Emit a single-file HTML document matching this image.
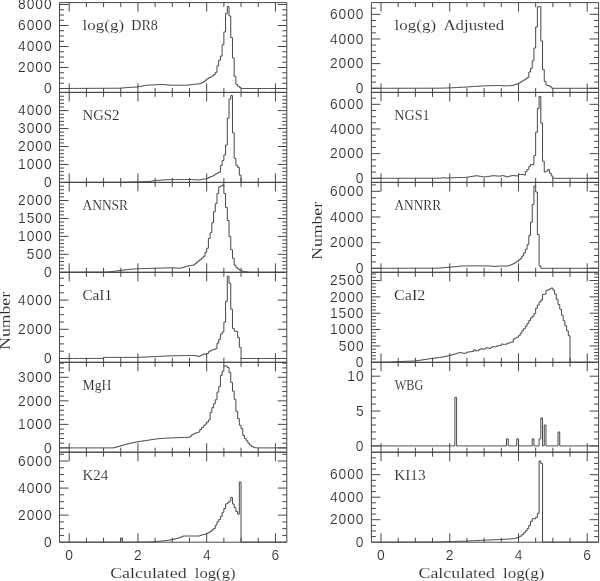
<!DOCTYPE html>
<html><head><meta charset="utf-8"><title>log(g) histograms</title>
<style>
html,body{margin:0;padding:0;background:#fff;width:600px;height:581px;overflow:hidden}
#fig{width:600px;height:581px;opacity:0.999;will-change:transform}
svg{display:block}
.tk{font-family:"Liberation Sans",sans-serif;font-size:13.8px;stroke:#fff;stroke-width:0.15px}
.nm{font-family:"Liberation Serif",serif;font-size:14.4px;stroke:#fff;stroke-width:0.12px}
.nb{font-family:"Liberation Serif",serif;font-size:15.6px;stroke:#fff;stroke-width:0.12px}
</style></head><body>
<div id="fig">
<svg width="600" height="581" viewBox="0 0 600 581">
<rect width="600" height="581" fill="#fff"/>
<path d="M59.50 2.60H286.80V92.40H59.50ZM69.20 92.40L69.20 83.40M69.20 2.60L69.20 11.60M86.39 92.40L86.39 87.90M86.39 2.60L86.39 7.10M103.57 92.40L103.57 87.90M103.57 2.60L103.57 7.10M120.75 92.40L120.75 87.90M120.75 2.60L120.75 7.10M137.94 92.40L137.94 83.40M137.94 2.60L137.94 11.60M155.12 92.40L155.12 87.90M155.12 2.60L155.12 7.10M172.31 92.40L172.31 87.90M172.31 2.60L172.31 7.10M189.50 92.40L189.50 87.90M189.50 2.60L189.50 7.10M206.68 92.40L206.68 83.40M206.68 2.60L206.68 11.60M223.87 92.40L223.87 87.90M223.87 2.60L223.87 7.10M241.05 92.40L241.05 87.90M241.05 2.60L241.05 7.10M258.24 92.40L258.24 87.90M258.24 2.60L258.24 7.10M275.42 92.40L275.42 83.40M275.42 2.60L275.42 11.60M59.50 88.50L68.50 88.50M286.80 88.50L277.80 88.50M59.50 83.25L64.00 83.25M286.80 83.25L282.30 83.25M59.50 78.00L64.00 78.00M286.80 78.00L282.30 78.00M59.50 72.75L64.00 72.75M286.80 72.75L282.30 72.75M59.50 67.50L68.50 67.50M286.80 67.50L277.80 67.50M59.50 62.25L64.00 62.25M286.80 62.25L282.30 62.25M59.50 57.00L64.00 57.00M286.80 57.00L282.30 57.00M59.50 51.75L64.00 51.75M286.80 51.75L282.30 51.75M59.50 46.50L68.50 46.50M286.80 46.50L277.80 46.50M59.50 41.25L64.00 41.25M286.80 41.25L282.30 41.25M59.50 36.00L64.00 36.00M286.80 36.00L282.30 36.00M59.50 30.75L64.00 30.75M286.80 30.75L282.30 30.75M59.50 25.50L68.50 25.50M286.80 25.50L277.80 25.50M59.50 20.25L64.00 20.25M286.80 20.25L282.30 20.25M59.50 15.00L64.00 15.00M286.80 15.00L282.30 15.00M59.50 9.75L64.00 9.75M286.80 9.75L282.30 9.75M59.50 4.50L68.50 4.50M286.80 4.50L277.80 4.50M59.50 92.40H286.80V182.40H59.50ZM69.20 182.40L69.20 173.40M69.20 92.40L69.20 101.40M86.39 182.40L86.39 177.90M86.39 92.40L86.39 96.90M103.57 182.40L103.57 177.90M103.57 92.40L103.57 96.90M120.75 182.40L120.75 177.90M120.75 92.40L120.75 96.90M137.94 182.40L137.94 173.40M137.94 92.40L137.94 101.40M155.12 182.40L155.12 177.90M155.12 92.40L155.12 96.90M172.31 182.40L172.31 177.90M172.31 92.40L172.31 96.90M189.50 182.40L189.50 177.90M189.50 92.40L189.50 96.90M206.68 182.40L206.68 173.40M206.68 92.40L206.68 101.40M223.87 182.40L223.87 177.90M223.87 92.40L223.87 96.90M241.05 182.40L241.05 177.90M241.05 92.40L241.05 96.90M258.24 182.40L258.24 177.90M258.24 92.40L258.24 96.90M275.42 182.40L275.42 173.40M275.42 92.40L275.42 101.40M59.50 178.81L64.00 178.81M286.80 178.81L282.30 178.81M59.50 175.22L64.00 175.22M286.80 175.22L282.30 175.22M59.50 171.63L64.00 171.63M286.80 171.63L282.30 171.63M59.50 168.04L64.00 168.04M286.80 168.04L282.30 168.04M59.50 164.45L68.50 164.45M286.80 164.45L277.80 164.45M59.50 160.86L64.00 160.86M286.80 160.86L282.30 160.86M59.50 157.27L64.00 157.27M286.80 157.27L282.30 157.27M59.50 153.68L64.00 153.68M286.80 153.68L282.30 153.68M59.50 150.09L64.00 150.09M286.80 150.09L282.30 150.09M59.50 146.50L68.50 146.50M286.80 146.50L277.80 146.50M59.50 142.91L64.00 142.91M286.80 142.91L282.30 142.91M59.50 139.32L64.00 139.32M286.80 139.32L282.30 139.32M59.50 135.73L64.00 135.73M286.80 135.73L282.30 135.73M59.50 132.14L64.00 132.14M286.80 132.14L282.30 132.14M59.50 128.55L68.50 128.55M286.80 128.55L277.80 128.55M59.50 124.96L64.00 124.96M286.80 124.96L282.30 124.96M59.50 121.37L64.00 121.37M286.80 121.37L282.30 121.37M59.50 117.78L64.00 117.78M286.80 117.78L282.30 117.78M59.50 114.19L64.00 114.19M286.80 114.19L282.30 114.19M59.50 110.60L68.50 110.60M286.80 110.60L277.80 110.60M59.50 107.01L64.00 107.01M286.80 107.01L282.30 107.01M59.50 103.42L64.00 103.42M286.80 103.42L282.30 103.42M59.50 99.83L64.00 99.83M286.80 99.83L282.30 99.83M59.50 96.24L64.00 96.24M286.80 96.24L282.30 96.24M59.50 182.40H286.80V272.30H59.50ZM69.20 272.30L69.20 263.30M69.20 182.40L69.20 191.40M86.39 272.30L86.39 267.80M86.39 182.40L86.39 186.90M103.57 272.30L103.57 267.80M103.57 182.40L103.57 186.90M120.75 272.30L120.75 267.80M120.75 182.40L120.75 186.90M137.94 272.30L137.94 263.30M137.94 182.40L137.94 191.40M155.12 272.30L155.12 267.80M155.12 182.40L155.12 186.90M172.31 272.30L172.31 267.80M172.31 182.40L172.31 186.90M189.50 272.30L189.50 267.80M189.50 182.40L189.50 186.90M206.68 272.30L206.68 263.30M206.68 182.40L206.68 191.40M223.87 272.30L223.87 267.80M223.87 182.40L223.87 186.90M241.05 272.30L241.05 267.80M241.05 182.40L241.05 186.90M258.24 272.30L258.24 267.80M258.24 182.40L258.24 186.90M275.42 272.30L275.42 263.30M275.42 182.40L275.42 191.40M59.50 268.71L64.00 268.71M286.80 268.71L282.30 268.71M59.50 265.12L64.00 265.12M286.80 265.12L282.30 265.12M59.50 261.53L64.00 261.53M286.80 261.53L282.30 261.53M59.50 257.94L64.00 257.94M286.80 257.94L282.30 257.94M59.50 254.35L68.50 254.35M286.80 254.35L277.80 254.35M59.50 250.76L64.00 250.76M286.80 250.76L282.30 250.76M59.50 247.17L64.00 247.17M286.80 247.17L282.30 247.17M59.50 243.58L64.00 243.58M286.80 243.58L282.30 243.58M59.50 239.99L64.00 239.99M286.80 239.99L282.30 239.99M59.50 236.40L68.50 236.40M286.80 236.40L277.80 236.40M59.50 232.81L64.00 232.81M286.80 232.81L282.30 232.81M59.50 229.22L64.00 229.22M286.80 229.22L282.30 229.22M59.50 225.63L64.00 225.63M286.80 225.63L282.30 225.63M59.50 222.04L64.00 222.04M286.80 222.04L282.30 222.04M59.50 218.45L68.50 218.45M286.80 218.45L277.80 218.45M59.50 214.86L64.00 214.86M286.80 214.86L282.30 214.86M59.50 211.27L64.00 211.27M286.80 211.27L282.30 211.27M59.50 207.68L64.00 207.68M286.80 207.68L282.30 207.68M59.50 204.09L64.00 204.09M286.80 204.09L282.30 204.09M59.50 200.50L68.50 200.50M286.80 200.50L277.80 200.50M59.50 196.91L64.00 196.91M286.80 196.91L282.30 196.91M59.50 193.32L64.00 193.32M286.80 193.32L282.30 193.32M59.50 189.73L64.00 189.73M286.80 189.73L282.30 189.73M59.50 186.14L64.00 186.14M286.80 186.14L282.30 186.14M59.50 272.30H286.80V362.30H59.50ZM69.20 362.30L69.20 353.30M69.20 272.30L69.20 281.30M86.39 362.30L86.39 357.80M86.39 272.30L86.39 276.80M103.57 362.30L103.57 357.80M103.57 272.30L103.57 276.80M120.75 362.30L120.75 357.80M120.75 272.30L120.75 276.80M137.94 362.30L137.94 353.30M137.94 272.30L137.94 281.30M155.12 362.30L155.12 357.80M155.12 272.30L155.12 276.80M172.31 362.30L172.31 357.80M172.31 272.30L172.31 276.80M189.50 362.30L189.50 357.80M189.50 272.30L189.50 276.80M206.68 362.30L206.68 353.30M206.68 272.30L206.68 281.30M223.87 362.30L223.87 357.80M223.87 272.30L223.87 276.80M241.05 362.30L241.05 357.80M241.05 272.30L241.05 276.80M258.24 362.30L258.24 357.80M258.24 272.30L258.24 276.80M275.42 362.30L275.42 353.30M275.42 272.30L275.42 281.30M59.50 358.50L68.50 358.50M286.80 358.50L277.80 358.50M59.50 351.20L64.00 351.20M286.80 351.20L282.30 351.20M59.50 343.90L64.00 343.90M286.80 343.90L282.30 343.90M59.50 336.60L64.00 336.60M286.80 336.60L282.30 336.60M59.50 329.30L68.50 329.30M286.80 329.30L277.80 329.30M59.50 322.00L64.00 322.00M286.80 322.00L282.30 322.00M59.50 314.70L64.00 314.70M286.80 314.70L282.30 314.70M59.50 307.40L64.00 307.40M286.80 307.40L282.30 307.40M59.50 300.10L68.50 300.10M286.80 300.10L277.80 300.10M59.50 292.80L64.00 292.80M286.80 292.80L282.30 292.80M59.50 285.50L64.00 285.50M286.80 285.50L282.30 285.50M59.50 278.20L64.00 278.20M286.80 278.20L282.30 278.20M59.50 362.30H286.80V452.20H59.50ZM69.20 452.20L69.20 443.20M69.20 362.30L69.20 371.30M86.39 452.20L86.39 447.70M86.39 362.30L86.39 366.80M103.57 452.20L103.57 447.70M103.57 362.30L103.57 366.80M120.75 452.20L120.75 447.70M120.75 362.30L120.75 366.80M137.94 452.20L137.94 443.20M137.94 362.30L137.94 371.30M155.12 452.20L155.12 447.70M155.12 362.30L155.12 366.80M172.31 452.20L172.31 447.70M172.31 362.30L172.31 366.80M189.50 452.20L189.50 447.70M189.50 362.30L189.50 366.80M206.68 452.20L206.68 443.20M206.68 362.30L206.68 371.30M223.87 452.20L223.87 447.70M223.87 362.30L223.87 366.80M241.05 452.20L241.05 447.70M241.05 362.30L241.05 366.80M258.24 452.20L258.24 447.70M258.24 362.30L258.24 366.80M275.42 452.20L275.42 443.20M275.42 362.30L275.42 371.30M59.50 447.90L68.50 447.90M286.80 447.90L277.80 447.90M59.50 443.19L64.00 443.19M286.80 443.19L282.30 443.19M59.50 438.49L64.00 438.49M286.80 438.49L282.30 438.49M59.50 433.78L64.00 433.78M286.80 433.78L282.30 433.78M59.50 429.08L64.00 429.08M286.80 429.08L282.30 429.08M59.50 424.37L68.50 424.37M286.80 424.37L277.80 424.37M59.50 419.66L64.00 419.66M286.80 419.66L282.30 419.66M59.50 414.96L64.00 414.96M286.80 414.96L282.30 414.96M59.50 410.25L64.00 410.25M286.80 410.25L282.30 410.25M59.50 405.55L64.00 405.55M286.80 405.55L282.30 405.55M59.50 400.84L68.50 400.84M286.80 400.84L277.80 400.84M59.50 396.13L64.00 396.13M286.80 396.13L282.30 396.13M59.50 391.43L64.00 391.43M286.80 391.43L282.30 391.43M59.50 386.72L64.00 386.72M286.80 386.72L282.30 386.72M59.50 382.02L64.00 382.02M286.80 382.02L282.30 382.02M59.50 377.31L68.50 377.31M286.80 377.31L277.80 377.31M59.50 372.60L64.00 372.60M286.80 372.60L282.30 372.60M59.50 367.90L64.00 367.90M286.80 367.90L282.30 367.90M59.50 363.19L64.00 363.19M286.80 363.19L282.30 363.19M59.50 452.20H286.80V542.20H59.50ZM69.20 542.20L69.20 533.20M69.20 452.20L69.20 461.20M86.39 542.20L86.39 537.70M86.39 452.20L86.39 456.70M103.57 542.20L103.57 537.70M103.57 452.20L103.57 456.70M120.75 542.20L120.75 537.70M120.75 452.20L120.75 456.70M137.94 542.20L137.94 533.20M137.94 452.20L137.94 461.20M155.12 542.20L155.12 537.70M155.12 452.20L155.12 456.70M172.31 542.20L172.31 537.70M172.31 452.20L172.31 456.70M189.50 542.20L189.50 537.70M189.50 452.20L189.50 456.70M206.68 542.20L206.68 533.20M206.68 452.20L206.68 461.20M223.87 542.20L223.87 537.70M223.87 452.20L223.87 456.70M241.05 542.20L241.05 537.70M241.05 452.20L241.05 456.70M258.24 542.20L258.24 537.70M258.24 452.20L258.24 456.70M275.42 542.20L275.42 533.20M275.42 452.20L275.42 461.20M59.50 535.44L64.00 535.44M286.80 535.44L282.30 535.44M59.50 528.67L64.00 528.67M286.80 528.67L282.30 528.67M59.50 521.91L64.00 521.91M286.80 521.91L282.30 521.91M59.50 515.14L68.50 515.14M286.80 515.14L277.80 515.14M59.50 508.38L64.00 508.38M286.80 508.38L282.30 508.38M59.50 501.61L64.00 501.61M286.80 501.61L282.30 501.61M59.50 494.85L64.00 494.85M286.80 494.85L282.30 494.85M59.50 488.08L68.50 488.08M286.80 488.08L277.80 488.08M59.50 481.32L64.00 481.32M286.80 481.32L282.30 481.32M59.50 474.55L64.00 474.55M286.80 474.55L282.30 474.55M59.50 467.79L64.00 467.79M286.80 467.79L282.30 467.79M59.50 461.02L68.50 461.02M286.80 461.02L277.80 461.02M59.50 454.26L64.00 454.26M286.80 454.26L282.30 454.26M371.40 2.60H598.60V92.40H371.40ZM381.00 92.40L381.00 83.40M381.00 2.60L381.00 11.60M398.19 92.40L398.19 87.90M398.19 2.60L398.19 7.10M415.37 92.40L415.37 87.90M415.37 2.60L415.37 7.10M432.56 92.40L432.56 87.90M432.56 2.60L432.56 7.10M449.74 92.40L449.74 83.40M449.74 2.60L449.74 11.60M466.93 92.40L466.93 87.90M466.93 2.60L466.93 7.10M484.11 92.40L484.11 87.90M484.11 2.60L484.11 7.10M501.29 92.40L501.29 87.90M501.29 2.60L501.29 7.10M518.48 92.40L518.48 83.40M518.48 2.60L518.48 11.60M535.66 92.40L535.66 87.90M535.66 2.60L535.66 7.10M552.85 92.40L552.85 87.90M552.85 2.60L552.85 7.10M570.03 92.40L570.03 87.90M570.03 2.60L570.03 7.10M587.22 92.40L587.22 83.40M587.22 2.60L587.22 11.60M371.40 88.30L380.40 88.30M598.60 88.30L589.60 88.30M371.40 82.13L375.90 82.13M598.60 82.13L594.10 82.13M371.40 75.97L375.90 75.97M598.60 75.97L594.10 75.97M371.40 69.80L375.90 69.80M598.60 69.80L594.10 69.80M371.40 63.64L380.40 63.64M598.60 63.64L589.60 63.64M371.40 57.47L375.90 57.47M598.60 57.47L594.10 57.47M371.40 51.31L375.90 51.31M598.60 51.31L594.10 51.31M371.40 45.14L375.90 45.14M598.60 45.14L594.10 45.14M371.40 38.98L380.40 38.98M598.60 38.98L589.60 38.98M371.40 32.81L375.90 32.81M598.60 32.81L594.10 32.81M371.40 26.65L375.90 26.65M598.60 26.65L594.10 26.65M371.40 20.48L375.90 20.48M598.60 20.48L594.10 20.48M371.40 14.32L380.40 14.32M598.60 14.32L589.60 14.32M371.40 8.15L375.90 8.15M598.60 8.15L594.10 8.15M371.40 92.40H598.60V182.40H371.40ZM381.00 182.40L381.00 173.40M381.00 92.40L381.00 101.40M398.19 182.40L398.19 177.90M398.19 92.40L398.19 96.90M415.37 182.40L415.37 177.90M415.37 92.40L415.37 96.90M432.56 182.40L432.56 177.90M432.56 92.40L432.56 96.90M449.74 182.40L449.74 173.40M449.74 92.40L449.74 101.40M466.93 182.40L466.93 177.90M466.93 92.40L466.93 96.90M484.11 182.40L484.11 177.90M484.11 92.40L484.11 96.90M501.29 182.40L501.29 177.90M501.29 92.40L501.29 96.90M518.48 182.40L518.48 173.40M518.48 92.40L518.48 101.40M535.66 182.40L535.66 177.90M535.66 92.40L535.66 96.90M552.85 182.40L552.85 177.90M552.85 92.40L552.85 96.90M570.03 182.40L570.03 177.90M570.03 92.40L570.03 96.90M587.22 182.40L587.22 173.40M587.22 92.40L587.22 101.40M371.40 178.30L380.40 178.30M598.60 178.30L589.60 178.30M371.40 172.14L375.90 172.14M598.60 172.14L594.10 172.14M371.40 165.97L375.90 165.97M598.60 165.97L594.10 165.97M371.40 159.81L375.90 159.81M598.60 159.81L594.10 159.81M371.40 153.64L380.40 153.64M598.60 153.64L589.60 153.64M371.40 147.48L375.90 147.48M598.60 147.48L594.10 147.48M371.40 141.31L375.90 141.31M598.60 141.31L594.10 141.31M371.40 135.15L375.90 135.15M598.60 135.15L594.10 135.15M371.40 128.98L380.40 128.98M598.60 128.98L589.60 128.98M371.40 122.81L375.90 122.81M598.60 122.81L594.10 122.81M371.40 116.65L375.90 116.65M598.60 116.65L594.10 116.65M371.40 110.49L375.90 110.49M598.60 110.49L594.10 110.49M371.40 104.32L380.40 104.32M598.60 104.32L589.60 104.32M371.40 98.16L375.90 98.16M598.60 98.16L594.10 98.16M371.40 182.40H598.60V272.30H371.40ZM381.00 272.30L381.00 263.30M381.00 182.40L381.00 191.40M398.19 272.30L398.19 267.80M398.19 182.40L398.19 186.90M415.37 272.30L415.37 267.80M415.37 182.40L415.37 186.90M432.56 272.30L432.56 267.80M432.56 182.40L432.56 186.90M449.74 272.30L449.74 263.30M449.74 182.40L449.74 191.40M466.93 272.30L466.93 267.80M466.93 182.40L466.93 186.90M484.11 272.30L484.11 267.80M484.11 182.40L484.11 186.90M501.29 272.30L501.29 267.80M501.29 182.40L501.29 186.90M518.48 272.30L518.48 263.30M518.48 182.40L518.48 191.40M535.66 272.30L535.66 267.80M535.66 182.40L535.66 186.90M552.85 272.30L552.85 267.80M552.85 182.40L552.85 186.90M570.03 272.30L570.03 267.80M570.03 182.40L570.03 186.90M587.22 272.30L587.22 263.30M587.22 182.40L587.22 191.40M371.40 268.30L380.40 268.30M598.60 268.30L589.60 268.30M371.40 261.88L375.90 261.88M598.60 261.88L594.10 261.88M371.40 255.47L375.90 255.47M598.60 255.47L594.10 255.47M371.40 249.06L375.90 249.06M598.60 249.06L594.10 249.06M371.40 242.64L380.40 242.64M598.60 242.64L589.60 242.64M371.40 236.23L375.90 236.23M598.60 236.23L594.10 236.23M371.40 229.81L375.90 229.81M598.60 229.81L594.10 229.81M371.40 223.40L375.90 223.40M598.60 223.40L594.10 223.40M371.40 216.98L380.40 216.98M598.60 216.98L589.60 216.98M371.40 210.56L375.90 210.56M598.60 210.56L594.10 210.56M371.40 204.15L375.90 204.15M598.60 204.15L594.10 204.15M371.40 197.74L375.90 197.74M598.60 197.74L594.10 197.74M371.40 191.32L380.40 191.32M598.60 191.32L589.60 191.32M371.40 184.91L375.90 184.91M598.60 184.91L594.10 184.91M371.40 272.30H598.60V362.30H371.40ZM381.00 362.30L381.00 353.30M381.00 272.30L381.00 281.30M398.19 362.30L398.19 357.80M398.19 272.30L398.19 276.80M415.37 362.30L415.37 357.80M415.37 272.30L415.37 276.80M432.56 362.30L432.56 357.80M432.56 272.30L432.56 276.80M449.74 362.30L449.74 353.30M449.74 272.30L449.74 281.30M466.93 362.30L466.93 357.80M466.93 272.30L466.93 276.80M484.11 362.30L484.11 357.80M484.11 272.30L484.11 276.80M501.29 362.30L501.29 357.80M501.29 272.30L501.29 276.80M518.48 362.30L518.48 353.30M518.48 272.30L518.48 281.30M535.66 362.30L535.66 357.80M535.66 272.30L535.66 276.80M552.85 362.30L552.85 357.80M552.85 272.30L552.85 276.80M570.03 362.30L570.03 357.80M570.03 272.30L570.03 276.80M587.22 362.30L587.22 353.30M587.22 272.30L587.22 281.30M371.40 359.03L375.90 359.03M598.60 359.03L594.10 359.03M371.40 355.76L375.90 355.76M598.60 355.76L594.10 355.76M371.40 352.48L375.90 352.48M598.60 352.48L594.10 352.48M371.40 349.21L375.90 349.21M598.60 349.21L594.10 349.21M371.40 345.94L380.40 345.94M598.60 345.94L589.60 345.94M371.40 342.67L375.90 342.67M598.60 342.67L594.10 342.67M371.40 339.40L375.90 339.40M598.60 339.40L594.10 339.40M371.40 336.12L375.90 336.12M598.60 336.12L594.10 336.12M371.40 332.85L375.90 332.85M598.60 332.85L594.10 332.85M371.40 329.58L380.40 329.58M598.60 329.58L589.60 329.58M371.40 326.31L375.90 326.31M598.60 326.31L594.10 326.31M371.40 323.04L375.90 323.04M598.60 323.04L594.10 323.04M371.40 319.76L375.90 319.76M598.60 319.76L594.10 319.76M371.40 316.49L375.90 316.49M598.60 316.49L594.10 316.49M371.40 313.22L380.40 313.22M598.60 313.22L589.60 313.22M371.40 309.95L375.90 309.95M598.60 309.95L594.10 309.95M371.40 306.68L375.90 306.68M598.60 306.68L594.10 306.68M371.40 303.40L375.90 303.40M598.60 303.40L594.10 303.40M371.40 300.13L375.90 300.13M598.60 300.13L594.10 300.13M371.40 296.86L380.40 296.86M598.60 296.86L589.60 296.86M371.40 293.59L375.90 293.59M598.60 293.59L594.10 293.59M371.40 290.32L375.90 290.32M598.60 290.32L594.10 290.32M371.40 287.04L375.90 287.04M598.60 287.04L594.10 287.04M371.40 283.77L375.90 283.77M598.60 283.77L594.10 283.77M371.40 280.50L380.40 280.50M598.60 280.50L589.60 280.50M371.40 277.23L375.90 277.23M598.60 277.23L594.10 277.23M371.40 273.96L375.90 273.96M598.60 273.96L594.10 273.96M371.40 362.30H598.60V452.20H371.40ZM381.00 452.20L381.00 443.20M381.00 362.30L381.00 371.30M398.19 452.20L398.19 447.70M398.19 362.30L398.19 366.80M415.37 452.20L415.37 447.70M415.37 362.30L415.37 366.80M432.56 452.20L432.56 447.70M432.56 362.30L432.56 366.80M449.74 452.20L449.74 443.20M449.74 362.30L449.74 371.30M466.93 452.20L466.93 447.70M466.93 362.30L466.93 366.80M484.11 452.20L484.11 447.70M484.11 362.30L484.11 366.80M501.29 452.20L501.29 447.70M501.29 362.30L501.29 366.80M518.48 452.20L518.48 443.20M518.48 362.30L518.48 371.30M535.66 452.20L535.66 447.70M535.66 362.30L535.66 366.80M552.85 452.20L552.85 447.70M552.85 362.30L552.85 366.80M570.03 452.20L570.03 447.70M570.03 362.30L570.03 366.80M587.22 452.20L587.22 443.20M587.22 362.30L587.22 371.30M371.40 445.90L380.40 445.90M598.60 445.90L589.60 445.90M371.40 438.93L375.90 438.93M598.60 438.93L594.10 438.93M371.40 431.96L375.90 431.96M598.60 431.96L594.10 431.96M371.40 424.99L375.90 424.99M598.60 424.99L594.10 424.99M371.40 418.02L375.90 418.02M598.60 418.02L594.10 418.02M371.40 411.05L380.40 411.05M598.60 411.05L589.60 411.05M371.40 404.08L375.90 404.08M598.60 404.08L594.10 404.08M371.40 397.11L375.90 397.11M598.60 397.11L594.10 397.11M371.40 390.14L375.90 390.14M598.60 390.14L594.10 390.14M371.40 383.17L375.90 383.17M598.60 383.17L594.10 383.17M371.40 376.20L380.40 376.20M598.60 376.20L589.60 376.20M371.40 369.23L375.90 369.23M598.60 369.23L594.10 369.23M371.40 452.20H598.60V542.20H371.40ZM381.00 542.20L381.00 533.20M381.00 452.20L381.00 461.20M398.19 542.20L398.19 537.70M398.19 452.20L398.19 456.70M415.37 542.20L415.37 537.70M415.37 452.20L415.37 456.70M432.56 542.20L432.56 537.70M432.56 452.20L432.56 456.70M449.74 542.20L449.74 533.20M449.74 452.20L449.74 461.20M466.93 542.20L466.93 537.70M466.93 452.20L466.93 456.70M484.11 542.20L484.11 537.70M484.11 452.20L484.11 456.70M501.29 542.20L501.29 537.70M501.29 452.20L501.29 456.70M518.48 542.20L518.48 533.20M518.48 452.20L518.48 461.20M535.66 542.20L535.66 537.70M535.66 452.20L535.66 456.70M552.85 542.20L552.85 537.70M552.85 452.20L552.85 456.70M570.03 542.20L570.03 537.70M570.03 452.20L570.03 456.70M587.22 542.20L587.22 533.20M587.22 452.20L587.22 461.20M371.40 536.58L375.90 536.58M598.60 536.58L594.10 536.58M371.40 530.95L375.90 530.95M598.60 530.95L594.10 530.95M371.40 525.33L375.90 525.33M598.60 525.33L594.10 525.33M371.40 519.70L380.40 519.70M598.60 519.70L589.60 519.70M371.40 514.08L375.90 514.08M598.60 514.08L594.10 514.08M371.40 508.45L375.90 508.45M598.60 508.45L594.10 508.45M371.40 502.83L375.90 502.83M598.60 502.83L594.10 502.83M371.40 497.20L380.40 497.20M598.60 497.20L589.60 497.20M371.40 491.58L375.90 491.58M598.60 491.58L594.10 491.58M371.40 485.95L375.90 485.95M598.60 485.95L594.10 485.95M371.40 480.33L375.90 480.33M598.60 480.33L594.10 480.33M371.40 474.70L380.40 474.70M598.60 474.70L589.60 474.70M371.40 469.08L375.90 469.08M598.60 469.08L594.10 469.08M371.40 463.45L375.90 463.45M598.60 463.45L594.10 463.45M371.40 457.83L375.90 457.83M598.60 457.83L594.10 457.83" stroke="#474747" stroke-width="1.0" fill="none"/>
<g stroke="#474747" stroke-width="1.0" fill="none" stroke-linejoin="miter">
<path d="M59.50,88.50H60.61V88.49H62.33V88.48H64.04V88.47H65.76V88.46H67.48V88.46H69.20V88.45H70.92V88.44H72.64V88.43H74.36V88.42H76.07V88.41H77.79V88.41H79.51V88.40H81.23V88.39H82.95V88.38H84.67V88.37H86.39V88.36H88.10V88.35H89.82V88.35H91.54V88.34H93.26V88.33H94.98V88.32H96.70V88.31H98.41V88.30H100.13V88.29H101.85V88.29H103.57V88.28H105.29V88.27H107.01V88.26H108.73V88.25H110.44V88.24H112.16V88.23H113.88V88.23H115.60V88.22H117.32V88.21H119.04V88.20H120.75V88.06H122.47V87.91H124.19V87.76H125.91V87.61H127.63V87.47H129.35V87.38H131.07V87.28H132.78V87.19H134.50V87.09H136.22V86.99H137.94V86.70H139.66V86.40H141.38V86.05H143.10V85.71H144.81V85.43H146.53V85.26H148.25V85.09H149.97V84.97H151.69V84.90H153.41V84.83H155.12V84.74H156.84V84.64H158.56V84.53H160.28V84.52H162.00V84.56H163.72V84.59H165.44V84.76H167.15V84.96H168.87V85.17H170.59V85.20H172.31H174.03H175.75H177.47H179.18H180.90H182.62H184.34H186.06H187.78V85.07H189.50V84.76H191.21V84.59H192.93V84.42H194.65V84.24H196.37V84.03H198.09V83.83H199.81V83.38H201.52V82.57H203.24V81.72H204.96V80.30H206.68V78.88H208.40V77.87H210.12V77.01H211.84V76.15H213.55V74.59H215.27V72.34H216.99V65.87H218.71V60.16H220.43V56.07H222.15V44.80H223.87V31.90H225.58V13.40H227.30V6.50H229.02V16.00H230.74V37.50H232.46V58.00H234.18V76.43H235.89V84.34H237.61V86.31H239.33V87.46H241.05V88.50H242.77H244.49H246.21H247.92H249.64H251.36H253.08H254.80H256.52H258.24H259.95H261.67H263.39H265.11H266.83H268.55H270.26H271.98H273.70H275.42H277.14H278.86H280.58H282.29H284.01H285.73H286.80"/>
<path d="M59.50,182.40H60.61V182.39H62.33V182.39H64.04V182.38H65.76V182.38H67.48V182.37H69.20V182.37H70.92V182.36H72.64V182.36H74.36V182.35H76.07V182.34H77.79V182.34H79.51V182.33H81.23V182.33H82.95V182.32H84.67V182.32H86.39V182.31H88.10V182.31H89.82V182.30H91.54V182.29H93.26V182.29H94.98V182.28H96.70V182.28H98.41V182.27H100.13V182.27H101.85V182.26H103.57V182.26H105.29V182.25H107.01V182.25H108.73V182.24H110.44V182.23H112.16V182.23H113.88V182.22H115.60V182.22H117.32V182.21H119.04V182.21H120.75V182.20H122.47V182.17H124.19V182.13H125.91V182.09H127.63V182.05H129.35V182.01H131.07V181.97H132.78V181.93H134.50V181.89H136.22V181.84H137.94V181.80H139.66V181.75H141.38V181.71H143.10V181.66H144.81V181.62H146.53V181.57H148.25V181.52H149.97V181.35H151.69V181.04H153.41V180.73H155.12V180.53H156.84V180.42H158.56V180.28H160.28V180.13H162.00V179.98H163.72V179.84H165.44V179.77H167.15V179.74H168.87V179.71H170.59V179.67H172.31V179.64H174.03V179.60H175.75V179.59H177.47V179.58H179.18V179.57H180.90V179.55H182.62V179.54H184.34V179.53H186.06V179.52H187.78V179.51H189.50V179.52H191.21V179.60H192.93V179.69H194.65V179.78H196.37V179.86H198.09V179.95H199.81V179.78H201.52V179.21H203.24V179.00H204.96H206.68V178.41H208.40V177.42H210.12V176.67H211.84V176.10H213.55V175.06H215.27V173.93H216.99V173.07H218.71V172.22H220.43V165.48H222.15V160.49H223.87V155.00H225.58V145.00H227.30V118.20H229.02V99.15H230.74V95.60H232.46V132.80H234.18V158.36H235.89V165.30H237.61V167.37H239.33V175.13H241.05V182.40H242.77H244.49H246.21H247.92H249.64H251.36H253.08H254.80H256.52H258.24H259.95H261.67H263.39H265.11H266.83H268.55H270.26H271.98H273.70H275.42H277.14H278.86H280.58H282.29H284.01H285.73H286.80"/>
<path d="M59.50,272.30H60.61V272.29H62.33V272.28H64.04V272.28H65.76V272.27H67.48V272.26H69.20V272.26H70.92V272.25H72.64V272.24H74.36V272.23H76.07V272.23H77.79V272.22H79.51V272.21H81.23V272.21H82.95V272.20H84.67V272.19H86.39V272.18H88.10V272.18H89.82V272.17H91.54V272.16H93.26V272.16H94.98V272.15H96.70V272.14H98.41V272.13H100.13V272.13H101.85V272.12H103.57V272.11H105.29V272.11H107.01V272.05H108.73V271.84H110.44V271.63H112.16V271.42H113.88V271.20H115.60V270.99H117.32V270.78H119.04V270.56H120.75V270.34H122.47V270.11H124.19V269.89H125.91V269.66H127.63V269.43H129.35V269.25H131.07V269.14H132.78V269.03H134.50V268.92H136.22V268.81H137.94V268.70H139.66V268.65H141.38V268.60H143.10V268.56H144.81V268.51H146.53V268.46H148.25V268.42H149.97V268.37H151.69V268.32H153.41V268.28H155.12V268.23H156.84V268.18H158.56V268.14H160.28V268.09H162.00V268.04H163.72V267.99H165.44V267.95H167.15V267.90H168.87V267.85H170.59V267.81H172.31V267.89H174.03V267.99H175.75V268.10H177.47V268.20H179.18V268.29H180.90V267.83H182.62V267.36H184.34V266.84H186.06V266.32H187.78V265.89H189.50V265.61H191.21V265.32H192.93V265.03H194.65V263.74H196.37V262.31H198.09V260.88H199.81V259.42H201.52V257.91H203.24V256.27H204.96V252.40H206.68V248.29H208.40V238.32H210.12V232.68H211.84V222.65H213.55V211.72H215.27V203.58H216.99V193.43H218.71V186.91H220.43V185.95H222.15V185.00H223.87V193.48H225.58V207.47H227.30V220.44H229.02V236.59H230.74V249.73H232.46V258.32H234.18V265.05H235.89V267.63H237.61V268.98H239.33V270.10H241.05V270.95H242.77V271.57H244.49V271.77H246.21V271.96H247.92V272.16H249.64V272.30H251.36H253.08H254.80H256.52H258.24H259.95H261.67H263.39H265.11H266.83H268.55H270.26H271.98H273.70H275.42H277.14H278.86H280.58H282.29H284.01H285.73H286.80"/>
<path d="M59.50,358.50H60.61V358.50H62.33V358.49H64.04V358.49H65.76V358.48H67.48V358.48H69.20V358.48H70.92V358.47H72.64V358.47H74.36V358.46H76.07V358.46H77.79V358.46H79.51V358.45H81.23V358.45H82.95V358.45H84.67V358.44H86.39V358.44H88.10V358.43H89.82V358.43H91.54V358.43H93.26V358.42H94.98V358.42H96.70V358.41H98.41V358.41H100.13V358.41H101.85V358.40H103.57V357.40H105.29H107.01H108.73H110.44H112.16H113.88H115.60H117.32H119.04H120.75H122.47H124.19H125.91H127.63H129.35H131.07H132.78H134.50H136.22V357.38H137.94V357.30H139.66V357.22H141.38V357.15H143.10V357.07H144.81V356.99H146.53V356.92H148.25V356.84H149.97V356.76H151.69V356.68H153.41V356.60H155.12V356.53H156.84V356.45H158.56V356.37H160.28V356.29H162.00V356.21H163.72V356.13H165.44V356.05H167.15V355.97H168.87V355.89H170.59V355.82H172.31V355.78H174.03V355.75H175.75V355.72H177.47V355.69H179.18V355.66H180.90V355.64H182.62V355.61H184.34V355.58H186.06V355.55H187.78V355.52H189.50V355.50H191.21H192.93H194.65V355.63H196.37V356.06H198.09V356.49H199.81V355.67H201.52V354.81H203.24V354.02H204.96V354.36H206.68V353.46H208.40V351.74H210.12V350.51H211.84V349.83H213.55V349.40H215.27V348.60H216.99V343.17H218.71V339.45H220.43V334.07H222.15V331.90H223.87V322.18H225.58V301.40H227.30V276.20H229.02V283.30H230.74V309.20H232.46V328.41H234.18V331.11H235.89V331.45H237.61V337.37H239.33V347.35H241.05V358.50H242.77H244.49H246.21H247.92H249.64H251.36H253.08H254.80H256.52H258.24H259.95H261.67H263.39H265.11H266.83H268.55H270.26H271.98H273.70H275.42H277.14H278.86H280.58H282.29H284.01H285.73H286.80"/>
<path d="M59.50,447.90H60.61H62.33H64.04H65.76H67.48H69.20H70.92H72.64H74.36H76.07H77.79H79.51H81.23H82.95H84.67H86.39H88.10H89.82H91.54H93.26H94.98H96.70H98.41H100.13H101.85H103.57H105.29H107.01H108.73H110.44H112.16H113.88V447.56H115.60V447.08H117.32V446.60H119.04V446.13H120.75V445.63H122.47V445.12H124.19V444.62H125.91V444.11H127.63V443.69H129.35V443.31H131.07V442.94H132.78V442.56H134.50V442.19H136.22V441.85H137.94V441.60H139.66V441.36H141.38V441.12H143.10V440.87H144.81V440.63H146.53V440.35H148.25V440.07H149.97V439.79H151.69V439.50H153.41V439.22H155.12V439.00H156.84V438.84H158.56V438.67H160.28V438.50H162.00V438.33H163.72V438.18H165.44V438.11H167.15V438.03H168.87V437.96H170.59V437.88H172.31V437.81H174.03V437.75H175.75V437.70H177.47V437.64H179.18V437.58H180.90V437.53H182.62V437.48H184.34V437.43H186.06V437.38H187.78V437.34H189.50V436.84H191.21V434.92H192.93V434.08H194.65V433.26H196.37V432.64H198.09V432.02H199.81V429.50H201.52V427.62H203.24V425.90H204.96V424.04H206.68V422.04H208.40V419.93H210.12V412.57H211.84V407.61H213.55V403.76H215.27V399.74H216.99V392.15H218.71V386.57H220.43V375.48H222.15V370.99H223.87V366.00H225.58H227.30V367.55H229.02V372.59H230.74V382.40H232.46V391.21H234.18V399.36H235.89V411.35H237.61V418.47H239.33V425.25H241.05V428.64H242.77V435.51H244.49V438.62H246.21V440.79H247.92V443.20H249.64V445.00H251.36V446.58H253.08V447.18H254.80V447.78H256.52V447.90H258.24H259.95H261.67H263.39H265.11H266.83H268.55H270.26H271.98H273.70H275.42H277.14H278.86H280.58H282.29H284.01H285.73H286.80"/>
<path d="M59.50,542.20H60.61H62.33H64.04H65.76H67.48H69.20H70.92H72.64H74.36H76.07H77.79H79.51H81.23H82.95H84.67H86.39H88.10H89.82H91.54H93.26H94.98H96.70H98.41H100.13H101.85H103.57H105.29H107.01H108.73H110.44H112.16H113.88H115.60H117.32H119.04H120.75V538.00H122.47V542.19H124.19V542.18H125.91V542.17H127.63V542.16H129.35V542.14H131.07V542.13H132.78V542.12H134.50V542.11H136.22V542.09H137.94V542.08H139.66V542.07H141.38V542.06H143.10V542.04H144.81V542.03H146.53V542.02H148.25V542.01H149.97V541.94H151.69V541.81H153.41V541.68H155.12V541.54H156.84V541.38H158.56V541.21H160.28V541.05H162.00V540.89H163.72V540.72H165.44V540.49H167.15V540.24H168.87V540.00H170.59V539.75H172.31V539.37H174.03V538.96H175.75V538.55H177.47V538.14H179.18V537.51H180.90V536.78H182.62V536.05H184.34V536.00H186.06H187.78H189.50H191.21H192.93H194.65H196.37H198.09H199.81V535.56H201.52V534.80H203.24V534.42H204.96V534.04H206.68V533.23H208.40V532.37H210.12V531.22H211.84V529.84H213.55V528.47H215.27V525.17H216.99V521.87H218.71V519.58H220.43V516.43H222.15V512.32H223.87V508.55H225.58V503.93H227.30V502.84H229.02V501.12H230.74V497.50H232.46V503.98H234.18V507.59H235.89V511.51H237.61V514.16H239.33V482.00H241.05V542.20H242.77H244.49H246.21H247.92H249.64H251.36H253.08H254.80H256.52H258.24H259.95H261.67H263.39H265.11H266.83H268.55H270.26H271.98H273.70H275.42H277.14H278.86H280.58H282.29H284.01H285.73H286.80"/>
<path d="M371.40,88.30H372.41V88.30H374.13V88.29H375.84V88.29H377.56V88.29H379.28V88.29H381.00V88.28H382.72V88.28H384.44V88.28H386.16V88.28H387.87V88.27H389.59V88.27H391.31V88.27H393.03V88.27H394.75V88.26H396.47V88.26H398.19V88.26H399.90V88.26H401.62V88.25H403.34V88.25H405.06V88.25H406.78V88.25H408.50V88.24H410.21V88.24H411.93V88.24H413.65V88.24H415.37V88.23H417.09V88.23H418.81V88.23H420.53V88.22H422.24V88.22H423.96V88.22H425.68V88.22H427.40V88.21H429.12V88.21H430.84V88.21H432.56V88.21H434.27V88.20H435.99V88.20H437.71V88.19H439.43V88.14H441.15V88.10H442.87V88.05H444.58V88.01H446.30V87.97H448.02V87.92H449.74V87.86H451.46V87.76H453.18V87.67H454.90V87.58H456.61V87.49H458.33V87.39H460.05V87.30H461.77V87.21H463.49V87.11H465.21V87.02H466.93V86.93H468.64V86.82H470.36V86.70H472.08V86.58H473.80V86.47H475.52V86.35H477.24V86.23H478.95V86.12H480.67V86.00H482.39V85.88H484.11V85.79H485.83V85.76H487.55V85.72H489.27V85.69H490.98V85.66H492.70V85.62H494.42V85.59H496.14V85.56H497.86V85.52H499.58V85.54H501.29V85.72H503.01V85.89H504.73V85.96H506.45V85.84H508.17V85.71H509.89V85.59H511.61V85.38H513.32V84.95H515.04V84.52H516.76V83.85H518.48V83.02H520.20V82.04H521.92V81.01H523.64V79.94H525.35V78.84H527.07V77.55H528.79V72.05H530.51V68.42H532.23V60.78H533.95V48.00H535.66V27.00H537.38V6.88H539.10V6.59H540.82V41.00H542.54V69.60H544.26V81.41H545.98V85.10H547.69V85.59H549.41V86.27H551.13V87.99H552.85V88.30H554.57H556.29H558.01H559.72H561.44H563.16H564.88H566.60H568.32H570.03H571.75H573.47H575.19H576.91H578.63H580.35H582.06H583.78H585.50H587.22H588.94H590.66H592.38H594.09H595.81H597.53H598.60"/>
<path d="M371.40,178.30H372.41V178.30H374.13V178.29H375.84V178.29H377.56V178.29H379.28V178.29H381.00V178.28H382.72V178.28H384.44V178.28H386.16V178.28H387.87V178.27H389.59V178.27H391.31V178.27H393.03V178.27H394.75V178.26H396.47V178.26H398.19V178.26H399.90V178.26H401.62V178.26H403.34V178.25H405.06V178.25H406.78V178.25H408.50V178.25H410.21V178.24H411.93V178.24H413.65V178.24H415.37V178.24H417.09V178.23H418.81V178.23H420.53V178.23H422.24V178.23H423.96V178.22H425.68V178.22H427.40V178.22H429.12V178.22H430.84V178.21H432.56V178.21H434.27V178.21H435.99V178.21H437.71V178.20H439.43V178.20H441.15V177.90H442.87V177.80H444.58V178.03H446.30V178.03H448.02V177.94H449.74V177.84H451.46V177.74H453.18V177.68H454.90V177.64H456.61V177.60H458.33V177.56H460.05V177.52H461.77V177.48H463.49V177.44H465.21V177.37H466.93V177.09H468.64V176.81H470.36V176.53H472.08V176.28H473.80V176.03H475.52V175.78H477.24V175.91H478.95V176.22H480.67V176.52H482.39V176.83H484.11V176.89H485.83V176.65H487.55V176.41H489.27V176.16H490.98V175.92H492.70V175.71H494.42V175.84H496.14V175.97H497.86V176.10H499.58V176.10H501.29V175.70H503.01V175.79H504.73V176.36H506.45V176.94H508.17V176.39H509.89V175.88H511.61V175.59H513.32V175.62H515.04V175.79H516.76V175.96H518.48V174.50H520.20H521.92H523.64V175.00H525.35V171.57H527.07V169.53H528.79V166.40H530.51V164.54H532.23V164.82H533.95V155.46H535.66V132.20H537.38V108.50H539.10V96.50H540.82V123.10H542.54V161.27H544.26V172.00H545.98V171.16H547.69V169.63H549.41V173.03H551.13V175.98H552.85V178.30H554.57H556.29H558.01H559.72H561.44H563.16H564.88H566.60H568.32H570.03H571.75H573.47H575.19H576.91H578.63H580.35H582.06H583.78H585.50H587.22H588.94H590.66H592.38H594.09H595.81H597.53H598.60"/>
<path d="M371.40,268.30H372.41V268.30H374.13V268.29H375.84V268.29H377.56V268.29H379.28V268.29H381.00V268.28H382.72V268.28H384.44V268.28H386.16V268.28H387.87V268.27H389.59V268.27H391.31V268.27H393.03V268.27H394.75V268.26H396.47V268.26H398.19V268.26H399.90V268.26H401.62V268.25H403.34V268.25H405.06V268.25H406.78V268.25H408.50V268.24H410.21V268.24H411.93V268.24H413.65V268.23H415.37V268.23H417.09V268.23H418.81V268.23H420.53V268.22H422.24V268.22H423.96V268.22H425.68V268.22H427.40V268.21H429.12V268.21H430.84V268.21H432.56V268.21H434.27V268.20H435.99V268.20H437.71V268.13H439.43V267.99H441.15V267.84H442.87V267.70H444.58V267.56H446.30V267.42H448.02V267.27H449.74V267.13H451.46V266.99H453.18V266.85H454.90V266.70H456.61V266.53H458.33V266.27H460.05V266.01H461.77V265.98H463.49V265.96H465.21V265.94H466.93V265.92H468.64V265.90H470.36V265.88H472.08V265.86H473.80V265.84H475.52V265.82H477.24V265.80H478.95V265.82H480.67V265.85H482.39V265.88H484.11V265.91H485.83V265.94H487.55V265.97H489.27V266.02H490.98V266.23H492.70V266.45H494.42V266.39H496.14V266.25H497.86V266.11H499.58V266.00H501.29H503.01H504.73H506.45H508.17V265.61H509.89V264.97H511.61V264.27H513.32V263.41H515.04V262.40H516.76V261.25H518.48V259.88H520.20V258.42H521.92V256.01H523.64V253.01H525.35V249.29H527.07V244.57H528.79V235.42H530.51V222.20H532.23V204.50H533.95V186.23H535.66V192.00H537.38V234.50H539.10V265.96H540.82V268.30H542.54H544.26H545.98H547.69H549.41H551.13H552.85H554.57H556.29H558.01H559.72H561.44H563.16H564.88H566.60H568.32H570.03H571.75H573.47H575.19H576.91H578.63H580.35H582.06H583.78H585.50H587.22H588.94H590.66H592.38H594.09H595.81H597.53H598.60"/>
<path d="M371.40,362.30H372.41V362.29H374.13V362.28H375.84V362.27H377.56V362.26H379.28V362.25H381.00V362.24H382.72V362.23H384.44V362.22H386.16V362.21H387.87V362.20H389.59V362.14H391.31V362.02H393.03V361.91H394.75V361.79H396.47V361.68H398.19V361.56H399.90V361.47H401.62V361.42H403.34V361.36H405.06V361.30H406.78V361.25H408.50V361.19H410.21V361.13H411.93V361.07H413.65V361.02H415.37V360.82H417.09V360.56H418.81V360.30H420.53V360.04H422.24V359.78H423.96V359.53H425.68V359.27H427.40V359.01H429.12V358.75H430.84V358.50H432.56V358.25H434.27V358.06H435.99V357.86H437.71V357.66H439.43V357.44H441.15V357.10H442.87V356.75H444.58V356.41H446.30V356.07H448.02V355.72H449.74V355.32H451.46V354.80H453.18V354.29H454.90V353.77H456.61V353.26H458.33V352.74H460.05V352.68H461.77V353.03H463.49V353.37H465.21V352.97H466.93V352.11H468.64V351.85H470.36V351.68H472.08V351.51H473.80V349.84H475.52V350.88H477.24V350.68H478.95V349.39H480.67V348.68H482.39V349.25H484.11V348.85H485.83V347.71H487.55V347.97H489.27V348.42H490.98V347.27H492.70V346.59H494.42V346.88H496.14V346.25H497.86V345.50H499.58H501.29V344.03H503.01V344.31H504.73V344.30H506.45V343.73H508.17V342.99H509.89V342.38H511.61V342.09H513.32V338.91H515.04V338.05H516.76V337.19H518.48V335.66H520.20V333.15H521.92V330.59H523.64V328.59H525.35V326.18H527.07V323.45H528.79V320.58H530.51V317.95H532.23V316.35H533.95V313.67H535.66V308.22H537.38V305.02H539.10V302.04H540.82V299.98H542.54V294.43H544.26V294.15H545.98V290.37H547.69V289.68H549.41V288.86H551.13V288.00H552.85V290.15H554.57V294.16H556.29V299.29H558.01V304.55H559.72V309.28H561.44V315.21H563.16V320.72H564.88V325.72H566.60V330.83H568.32V335.74H570.03V362.30H571.75H573.47H575.19H576.91H578.63H580.35H582.06H583.78H585.50H587.22H588.94H590.66H592.38H594.09H595.81H597.53H598.60"/>
<path d="M371.40,445.90H372.41H374.13H375.84H377.56H379.28H381.00H382.72H384.44H386.16H387.87H389.59H391.31H393.03H394.75H396.47H398.19H399.90H401.62H403.34H405.06H406.78H408.50H410.21H411.93H413.65H415.37H417.09H418.81H420.53H422.24H423.96H425.68H427.40H429.12H430.84H432.56H434.27H435.99H437.71H439.43H441.15H442.87H444.58H446.30H448.02H449.74H451.46H453.18H454.90V397.40H456.61V445.90H458.33H460.05H461.77H463.49H465.21H466.93H468.64H470.36H472.08H473.80H475.52H477.24H478.95H480.67H482.39H484.11H485.83H487.55H489.27H490.98H492.70H494.42H496.14H497.86H499.58H501.29H503.01H504.73H506.45V438.90H508.17V445.90H509.89H511.61H513.32H515.04H516.76V438.90H518.48V445.90H520.20H521.92H523.64H525.35H527.07H528.79H530.51H532.23V438.90H533.95V445.90H535.66H537.38H539.10V438.90H540.82V418.00H542.54V445.90H544.26V425.00H545.98V445.90H547.69H549.41H551.13H552.85H554.57H556.29H558.01V432.00H559.72V445.90H561.44H563.16H564.88H566.60H568.32H570.03H571.75H573.47H575.19H576.91H578.63H580.35H582.06H583.78H585.50H587.22H588.94H590.66H592.38H594.09H595.81H597.53H598.60"/>
<path d="M371.40,542.20H372.41V542.19H374.13V542.19H375.84V542.18H377.56V542.18H379.28V542.17H381.00V542.17H382.72V542.16H384.44V542.16H386.16V542.15H387.87V542.15H389.59V542.14H391.31V542.14H393.03V542.13H394.75V542.13H396.47V542.12H398.19V542.11H399.90V542.11H401.62V542.10H403.34V542.10H405.06V542.09H406.78V542.09H408.50V542.08H410.21V542.08H411.93V542.07H413.65V542.07H415.37V542.06H417.09V542.06H418.81V542.05H420.53V542.05H422.24V542.04H423.96V542.03H425.68V542.03H427.40V542.02H429.12V542.02H430.84V542.01H432.56V542.01H434.27V542.00H435.99V541.98H437.71V541.93H439.43V541.88H441.15V541.83H442.87V541.78H444.58V541.73H446.30V541.68H448.02V541.63H449.74V541.58H451.46V541.53H453.18V541.48H454.90V541.43H456.61V541.38H458.33V541.33H460.05V541.28H461.77V541.23H463.49V541.17H465.21V541.09H466.93V541.00H468.64V540.92H470.36V540.84H472.08V540.76H473.80V540.67H475.52V540.59H477.24V540.51H478.95V540.43H480.67V540.34H482.39V540.26H484.11V540.18H485.83V540.10H487.55V540.02H489.27V539.95H490.98V539.87H492.70V539.79H494.42V539.71H496.14V539.64H497.86V539.56H499.58V539.48H501.29V539.39H503.01V539.31H504.73V539.22H506.45V539.13H508.17V539.05H509.89V538.93H511.61V538.75H513.32V538.58H515.04V538.20H516.76V537.63H518.48V536.83H520.20V535.95H521.92V534.52H523.64V532.92H525.35V530.92H527.07V528.51H528.79V525.55H530.51V521.26H532.23V518.55H533.95V518.87H535.66V517.35H537.38V513.26H539.10V461.00H540.82V463.59H542.54V542.20H544.26H545.98H547.69H549.41H551.13H552.85H554.57H556.29H558.01H559.72H561.44H563.16H564.88H566.60H568.32H570.03H571.75H573.47H575.19H576.91H578.63H580.35H582.06H583.78H585.50H587.22H588.94H590.66H592.38H594.09H595.81H597.53H598.60"/>
</g>
<g fill="#2a2a2a">
<text class="tk" x="43.95" y="93.20">0</text>
<text class="tk" x="18.01" y="72.20" textLength="33.64" lengthAdjust="spacing">2000</text>
<text class="tk" x="18.01" y="51.20" textLength="33.64" lengthAdjust="spacing">4000</text>
<text class="tk" x="18.01" y="30.20" textLength="33.64" lengthAdjust="spacing">6000</text>
<text class="tk" x="18.01" y="9.20" textLength="33.64" lengthAdjust="spacing">8000</text>
<text class="tk" x="43.95" y="187.10">0</text>
<text class="tk" x="18.01" y="169.15" textLength="33.64" lengthAdjust="spacing">1000</text>
<text class="tk" x="18.01" y="151.20" textLength="33.64" lengthAdjust="spacing">2000</text>
<text class="tk" x="18.01" y="133.25" textLength="33.64" lengthAdjust="spacing">3000</text>
<text class="tk" x="18.01" y="115.30" textLength="33.64" lengthAdjust="spacing">4000</text>
<text class="tk" x="43.95" y="277.00">0</text>
<text class="tk" x="26.74" y="259.05" textLength="24.99" lengthAdjust="spacing">500</text>
<text class="tk" x="18.01" y="241.10" textLength="33.64" lengthAdjust="spacing">1000</text>
<text class="tk" x="18.01" y="223.15" textLength="33.64" lengthAdjust="spacing">1500</text>
<text class="tk" x="18.01" y="205.20" textLength="33.64" lengthAdjust="spacing">2000</text>
<text class="tk" x="43.95" y="363.20">0</text>
<text class="tk" x="18.01" y="334.00" textLength="33.64" lengthAdjust="spacing">2000</text>
<text class="tk" x="18.01" y="304.80" textLength="33.64" lengthAdjust="spacing">4000</text>
<text class="tk" x="43.95" y="452.60">0</text>
<text class="tk" x="18.01" y="429.07" textLength="33.64" lengthAdjust="spacing">1000</text>
<text class="tk" x="18.01" y="405.54" textLength="33.64" lengthAdjust="spacing">2000</text>
<text class="tk" x="18.01" y="382.01" textLength="33.64" lengthAdjust="spacing">3000</text>
<text class="tk" x="43.95" y="546.90">0</text>
<text class="tk" x="18.01" y="519.84" textLength="33.64" lengthAdjust="spacing">2000</text>
<text class="tk" x="18.01" y="492.78" textLength="33.64" lengthAdjust="spacing">4000</text>
<text class="tk" x="18.01" y="465.72" textLength="33.64" lengthAdjust="spacing">6000</text>
<text class="tk" x="355.85" y="93.00">0</text>
<text class="tk" x="329.91" y="68.34" textLength="33.64" lengthAdjust="spacing">2000</text>
<text class="tk" x="329.91" y="43.68" textLength="33.64" lengthAdjust="spacing">4000</text>
<text class="tk" x="329.91" y="19.02" textLength="33.64" lengthAdjust="spacing">6000</text>
<text class="tk" x="355.85" y="183.00">0</text>
<text class="tk" x="329.91" y="158.34" textLength="33.64" lengthAdjust="spacing">2000</text>
<text class="tk" x="329.91" y="133.68" textLength="33.64" lengthAdjust="spacing">4000</text>
<text class="tk" x="329.91" y="109.02" textLength="33.64" lengthAdjust="spacing">6000</text>
<text class="tk" x="355.85" y="273.00">0</text>
<text class="tk" x="329.91" y="247.34" textLength="33.64" lengthAdjust="spacing">2000</text>
<text class="tk" x="329.91" y="221.68" textLength="33.64" lengthAdjust="spacing">4000</text>
<text class="tk" x="329.91" y="196.02" textLength="33.64" lengthAdjust="spacing">6000</text>
<text class="tk" x="355.85" y="367.00">0</text>
<text class="tk" x="338.64" y="350.64" textLength="24.99" lengthAdjust="spacing">500</text>
<text class="tk" x="329.91" y="334.28" textLength="33.64" lengthAdjust="spacing">1000</text>
<text class="tk" x="329.91" y="317.92" textLength="33.64" lengthAdjust="spacing">1500</text>
<text class="tk" x="329.91" y="301.56" textLength="33.64" lengthAdjust="spacing">2000</text>
<text class="tk" x="329.91" y="285.20" textLength="33.64" lengthAdjust="spacing">2500</text>
<text class="tk" x="355.85" y="450.60">0</text>
<text class="tk" x="356.10" y="415.75">5</text>
<text class="tk" x="347.37" y="380.90" textLength="16.34" lengthAdjust="spacing">10</text>
<text class="tk" x="355.85" y="546.90">0</text>
<text class="tk" x="329.91" y="524.40" textLength="33.64" lengthAdjust="spacing">2000</text>
<text class="tk" x="329.91" y="501.90" textLength="33.64" lengthAdjust="spacing">4000</text>
<text class="tk" x="329.91" y="479.40" textLength="33.64" lengthAdjust="spacing">6000</text>
<text class="tk" x="65.33" y="559.50">0</text>
<text class="tk" x="134.06" y="559.50">2</text>
<text class="tk" x="202.93" y="559.50">4</text>
<text class="tk" x="271.54" y="559.50">6</text>
<text class="tk" x="377.12" y="559.50">0</text>
<text class="tk" x="445.87" y="559.50">2</text>
<text class="tk" x="514.73" y="559.50">4</text>
<text class="tk" x="583.35" y="559.50">6</text>
<text class="nm" x="82.61" y="29.80" textLength="41.49" lengthAdjust="spacingAndGlyphs">log(g)</text>
<text class="nm" x="131.21" y="29.80" textLength="26.72" lengthAdjust="spacingAndGlyphs">DR8</text>
<text class="nm" x="82.49" y="120.00" textLength="36.97" lengthAdjust="spacingAndGlyphs">NGS2</text>
<text class="nm" x="82.50" y="209.50" textLength="45.53" lengthAdjust="spacingAndGlyphs">ANNSR</text>
<text class="nm" x="82.47" y="299.50" textLength="29.57" lengthAdjust="spacingAndGlyphs">CaI1</text>
<text class="nm" x="82.53" y="389.50" textLength="28.85" lengthAdjust="spacingAndGlyphs">MgH</text>
<text class="nm" x="82.48" y="479.50" textLength="25.83" lengthAdjust="spacingAndGlyphs">K24</text>
<text class="nm" x="394.61" y="29.80" textLength="41.49" lengthAdjust="spacingAndGlyphs">log(g)</text>
<text class="nm" x="443.40" y="29.80" textLength="60.86" lengthAdjust="spacingAndGlyphs">Adjusted</text>
<text class="nm" x="394.21" y="120.00" textLength="35.52" lengthAdjust="spacingAndGlyphs">NGS1</text>
<text class="nm" x="394.50" y="209.50" textLength="46.62" lengthAdjust="spacingAndGlyphs">ANNRR</text>
<text class="nm" x="394.14" y="299.50" textLength="31.18" lengthAdjust="spacingAndGlyphs">CaI2</text>
<text class="nm" x="394.70" y="389.50" textLength="28.58" lengthAdjust="spacingAndGlyphs">WBG</text>
<text class="nm" x="394.17" y="479.50" textLength="31.45" lengthAdjust="spacingAndGlyphs">KI13</text>
<text class="nm" x="110.18" y="577.90" textLength="76.49" lengthAdjust="spacingAndGlyphs">Calculated</text>
<text class="nm" x="194.81" y="577.90" textLength="40.77" lengthAdjust="spacingAndGlyphs">log(g)</text>
<text class="nm" x="418.48" y="577.90" textLength="76.49" lengthAdjust="spacingAndGlyphs">Calculated</text>
<text class="nm" x="503.01" y="577.90" textLength="41.38" lengthAdjust="spacingAndGlyphs">log(g)</text>
<text class="nb" transform="translate(9.90,349.66) rotate(-90)" x="0" y="0" textLength="57.69" lengthAdjust="spacingAndGlyphs">Number</text>
<text class="nb" transform="translate(321.90,259.66) rotate(-90)" x="0" y="0" textLength="57.69" lengthAdjust="spacingAndGlyphs">Number</text>
</g>
</svg>
</div>
</body></html>
